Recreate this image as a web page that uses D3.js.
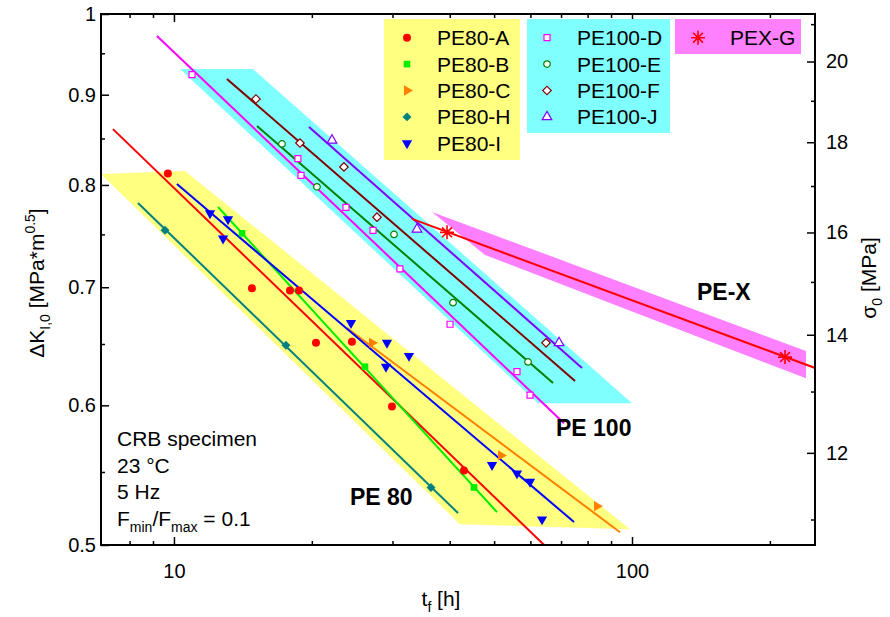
<!DOCTYPE html>
<html><head><meta charset="utf-8">
<script src="https://cdn.jsdelivr.net/npm/d3@7"></script>
<style>
body{margin:0;background:#fff}
text{font-family:"Liberation Sans",Arial,sans-serif;fill:#000}
</style>
</head><body>
<svg id="c" width="890" height="617"></svg>
<script>
// ---------------- DATA ----------------
const seriesNames = ["PE80-A","PE80-B","PE80-C","PE80-H","PE80-I","PE100-D","PE100-E","PE100-F","PE100-J","PEX-G"];

// measured points: time to failure t_f [h] and ΔK_I,0 [MPa*m^0.5]
const pe80A_t = [9.70,14.80,17.92,18.75,20.42,24.47,29.92,42.97];
const pe80A_k = [0.812,0.699,0.697,0.697,0.651,0.652,0.599,0.551];
const pe80B_t = [14.08,26.12,45.19];
const pe80B_k = [0.751,0.631,0.539];
const pe80C_t = [27.06,51.76,83.85];
const pe80C_k = [0.651,0.562,0.526];
const pe80H_t = [9.56,17.56,36.41];
const pe80H_k = [0.754,0.649,0.539];
const pe80I_t = [11.99,13.12,12.80,24.35,29.18,32.59,29.03,49.48,56.09,59.89,63.61];
const pe80I_k = [0.771,0.765,0.746,0.668,0.651,0.640,0.631,0.555,0.549,0.543,0.517];
const pe100D_t = [10.95,18.65,18.94,23.74,27.20,31.14,40.06,56.09,59.89];
const pe100D_k = [0.924,0.828,0.810,0.777,0.754,0.717,0.667,0.627,0.608];
const pe100E_t = [17.21,20.52,30.23,40.67,59.29];
const pe100E_k = [0.844,0.798,0.750,0.686,0.635];
const pe100F_t = [15.10,18.84,23.50,27.75,64.90];
const pe100F_k = [0.895,0.845,0.819,0.767,0.651];
const pe100J_t = [22.13,33.93,69.29];
const pe100J_k = [0.848,0.755,0.651];
const pexG_t = [39.46,215.8];
const pexG_k = [0.752,0.639];

// fitted lines (start / end)
const fitA_t = [7.36,64.3],   fitA_k = [0.8605,0.5];
const fitB_t = [12.48,50.73], fitB_k = [0.7773,0.5219];
const fitC_t = [23.86,94.15], fitC_k = [0.6637,0.5084];
const fitH_t = [8.346,41.70], fitH_k = [0.7814,0.5213];
const fitI_t = [10.15,74.72], fitI_k = [0.8009,0.5152];
const fitD_t = [9.181,71.05], fitD_k = [0.9717,0.5862];
const fitE_t = [15.18,67.23], fitE_k = [0.8639,0.6178];
const fitF_t = [13.05,75.10], fitF_k = [0.9187,0.6194];
const fitJ_t = [19.72,77.77], fitJ_k = [0.8628,0.6300];
const fitG_t = [33.09,251.0], fitG_k = [0.7653,0.6300];

// scatter bands
const bandPE80_t  = [6.93,10.57,99.0,42.12];
const bandPE80_k  = [0.8114,0.8147,0.5104,0.5137];
const bandPE100_t = [10.31,14.87,100.0,62.34];
const bandPE100_k = [0.9307,0.9307,0.6017,0.6017];
const bandPEX_t   = [36.59,239.8,239.8,47.77];
const bandPEX_k   = [0.7723,0.6441,0.6215,0.7302];

// axes ticks
const xMajorTicks = [10,100];
const xMinorTicks = [8,9,20,30,40,50,60,70,80,90,200];
const yMajorTicks = [0.5,0.6,0.7,0.8,0.9,1];
const yMinorTicks = [0.55,0.65,0.75,0.85,0.95];
const rMajorTicks = [12,14,16,18,20];
const rMinorTicks = [11,13,15,17,19,21];
const noteLines = ["CRB specimen","23 °C","5 Hz"];
const groupLabels = ["PE 80","PE 100","PE-X"];

// ---------------- STYLE ----------------
const colors  = ["#ff0000","#00ee00","#ff8000","#008080","#0000ff","#ff00ff","#008000","#800000","#8000ff","#ff0000"];
const symbols = ["circle","square","tright","diamond","tdown","square","circle","diamond","tup","star"];
const filled  = [true,true,true,true,true,false,false,false,false,true];
const bandColors = ["#ffff80","#80ffff","#ff80ff"];

const seriesT = [pe80A_t,pe80B_t,pe80C_t,pe80H_t,pe80I_t,pe100D_t,pe100E_t,pe100F_t,pe100J_t,pexG_t];
const seriesK = [pe80A_k,pe80B_k,pe80C_k,pe80H_k,pe80I_k,pe100D_k,pe100E_k,pe100F_k,pe100J_k,pexG_k];
const fitsT = [fitA_t,fitB_t,fitC_t,fitH_t,fitI_t,fitD_t,fitE_t,fitF_t,fitJ_t,fitG_t];
const fitsK = [fitA_k,fitB_k,fitC_k,fitH_k,fitI_k,fitD_k,fitE_k,fitF_k,fitJ_k,fitG_k];
const bandsT = [bandPE80_t,bandPE100_t,bandPEX_t];
const bandsK = [bandPE80_k,bandPE100_k,bandPEX_k];

// ---------------- CHART ----------------
const L=101,R=815,T=14,B=545;
const svg = d3.select("#c");
const x  = d3.scaleLog().domain([6.93,250.9]).range([L,R]);
const y  = d3.scaleLog().domain([0.5,1]).range([B,T]);
const yR = d3.scaleLog().domain([10.64,21.28]).range([B,T]);

svg.append("clipPath").attr("id","clip").append("rect")
  .attr("x",L).attr("y",T).attr("width",R-L).attr("height",B-T);
const plot = svg.append("g").attr("clip-path","url(#clip)");

const line = d3.line().x(d=>x(d[0])).y(d=>y(d[1]));

bandsT.forEach((bt,i)=>{
  plot.append("path").attr("d", line(d3.zip(bt,bandsK[i]))+"Z")
    .attr("fill",bandColors[i]).attr("stroke","none");
});

fitsT.forEach((ft,i)=>{
  plot.append("path").attr("d", line(d3.zip(ft,fitsK[i])))
    .attr("fill","none").attr("stroke",colors[i]).attr("stroke-width",2);
});

function drawMarker(g, type, cx, cy, color, fill){
  let p;
  const s = d3.symbol();
  if(type==="circle"){ p=g.append("path").attr("d",s.type(d3.symbolCircle).size(fill?50:34)()); }
  else if(type==="square"){ p=g.append("path").attr("d",s.type(d3.symbolSquare).size(fill?44:36)()); }
  else if(type==="diamond"){ p=g.append("path").attr("d",s.type(d3.symbolSquare).size(fill?40:36)()); }
  else if(type==="tright"||type==="tdown"||type==="tup"){ p=g.append("path").attr("d",s.type(d3.symbolTriangle).size(fill?46:40)()); }
  else if(type==="star"){
    const r=7, a=[];
    for(let k=0;k<4;k++){const ang=k*Math.PI/4; a.push(`M${-r*Math.cos(ang)},${-r*Math.sin(ang)}L${r*Math.cos(ang)},${r*Math.sin(ang)}`);}
    p=g.append("path").attr("d",a.join("")).attr("stroke",color).attr("stroke-width",1.6).attr("fill","none");
    g.append("circle").attr("r",2.2).attr("fill",color).attr("transform",`translate(${cx},${cy})`);
    p.attr("transform",`translate(${cx},${cy})`);
    return;
  }
  let rot = 0;
  if(type==="diamond") rot=45;
  if(type==="tright") rot=90;
  if(type==="tdown") rot=180;
  p.attr("transform",`translate(${cx},${cy}) rotate(${rot})`);
  if(fill) p.attr("fill",color).attr("stroke","none");
  else p.attr("fill","#fff").attr("stroke",color).attr("stroke-width",1.2);
}

seriesT.forEach((st,i)=>{
  const g = plot.append("g");
  st.forEach((t,j)=> drawMarker(g, symbols[i], x(t), y(seriesK[i][j]), colors[i], filled[i]));
});

// ---------------- AXES ----------------
const fmtY = d => d===1 ? "1" : d3.format(".1f")(d);
function styleAxis(g){ g.select(".domain").remove(); g.selectAll("text").attr("font-size",20).attr("font-family","Liberation Sans, Arial, sans-serif").attr("fill","#000"); g.selectAll("line").attr("stroke","#000").attr("stroke-width",1.5); }

svg.append("g").attr("transform",`translate(0,${B})`)
  .call(d3.axisBottom(x).tickValues(xMajorTicks).tickSize(-8).tickPadding(19).tickFormat(d3.format("d"))).call(styleAxis);
svg.append("g").attr("transform",`translate(0,${B})`)
  .call(d3.axisBottom(x).tickValues(xMinorTicks).tickSize(-4).tickFormat("")).call(styleAxis);
svg.append("g").attr("transform",`translate(0,${T})`)
  .call(d3.axisTop(x).tickValues(xMajorTicks).tickSize(-8).tickFormat("")).call(styleAxis);
svg.append("g").attr("transform",`translate(0,${T})`)
  .call(d3.axisTop(x).tickValues(xMinorTicks).tickSize(-4).tickFormat("")).call(styleAxis);

svg.append("g").attr("transform",`translate(${L},0)`)
  .call(d3.axisLeft(y).tickValues(yMajorTicks).tickSize(-8).tickPadding(5).tickFormat(fmtY)).call(styleAxis);
svg.append("g").attr("transform",`translate(${L},0)`)
  .call(d3.axisLeft(y).tickValues(yMinorTicks).tickSize(-4).tickFormat("")).call(styleAxis);

svg.append("g").attr("transform",`translate(${R},0)`)
  .call(d3.axisRight(yR).tickValues(rMajorTicks).tickSize(-8).tickPadding(11).tickFormat(d3.format("d"))).call(styleAxis);
svg.append("g").attr("transform",`translate(${R},0)`)
  .call(d3.axisRight(yR).tickValues(rMinorTicks).tickSize(-4).tickFormat("")).call(styleAxis);

svg.append("rect").attr("x",L).attr("y",T).attr("width",R-L).attr("height",B-T)
  .attr("fill","none").attr("stroke","#000").attr("stroke-width",2);

// axis titles
const xt = svg.append("text").attr("x",441).attr("y",606).attr("text-anchor","middle").attr("font-size",21);
xt.append("tspan").text("t");
xt.append("tspan").attr("dy",6).attr("font-size",14).text("f");
xt.append("tspan").attr("dy",-6).text(" [h]");

const yt = svg.append("text").attr("transform","translate(44,283) rotate(-90)").attr("text-anchor","middle").attr("font-size",21);
yt.append("tspan").text("ΔK");
yt.append("tspan").attr("dy",6).attr("font-size",14).text("I,0");
yt.append("tspan").attr("dy",-6).text(" [MPa*m");
yt.append("tspan").attr("dy",-9).attr("font-size",14).text("0.5");
yt.append("tspan").attr("dy",9).text("]");

const rt = svg.append("text").attr("transform","translate(876,278) rotate(-90)").attr("text-anchor","middle").attr("font-size",21);
rt.append("tspan").text("σ");
rt.append("tspan").attr("dy",6).attr("font-size",14).text("0");
rt.append("tspan").attr("dy",-6).text(" [MPa]");

// notes
noteLines.forEach((s,i)=>{
  svg.append("text").attr("x",117).attr("y",446+i*26.7).attr("font-size",21).text(s);
});
const fl = svg.append("text").attr("x",117).attr("y",446+3*26.7).attr("font-size",21);
fl.append("tspan").text("F");
fl.append("tspan").attr("dy",6).attr("font-size",14).text("min");
fl.append("tspan").attr("dy",-6).text("/F");
fl.append("tspan").attr("dy",6).attr("font-size",14).text("max");
fl.append("tspan").attr("dy",-6).text(" = 0.1");

// group labels
const glPos = [[350,505],[556,436],[697,300]];
groupLabels.forEach((s,i)=>{
  svg.append("text").attr("x",glPos[i][0]).attr("y",glPos[i][1]).attr("font-size",23).attr("font-weight","bold").text(s);
});

// ---------------- LEGEND ----------------
const legBoxes = [[384,19,136,141],[527,19,143,114],[675,19,126,35]];
const legGroups = [[0,1,2,3,4],[5,6,7,8],[9]];
const legSym = [407,547,698], legTxt=[437,577,730];
legGroups.forEach((grp,gi)=>{
  const b=legBoxes[gi];
  svg.append("rect").attr("x",b[0]).attr("y",b[1]).attr("width",b[2]).attr("height",b[3]).attr("fill",bandColors[gi]);
  const g = svg.append("g");
  grp.forEach((si,r)=>{
    const cy = 37.7 + r*26.4;
    drawMarker(g, symbols[si], legSym[gi], cy, colors[si], filled[si]);
    svg.append("text").attr("x",legTxt[gi]).attr("y",cy+7.5).attr("font-size",21).text(seriesNames[si]);
  });
});
</script>
</body></html>
